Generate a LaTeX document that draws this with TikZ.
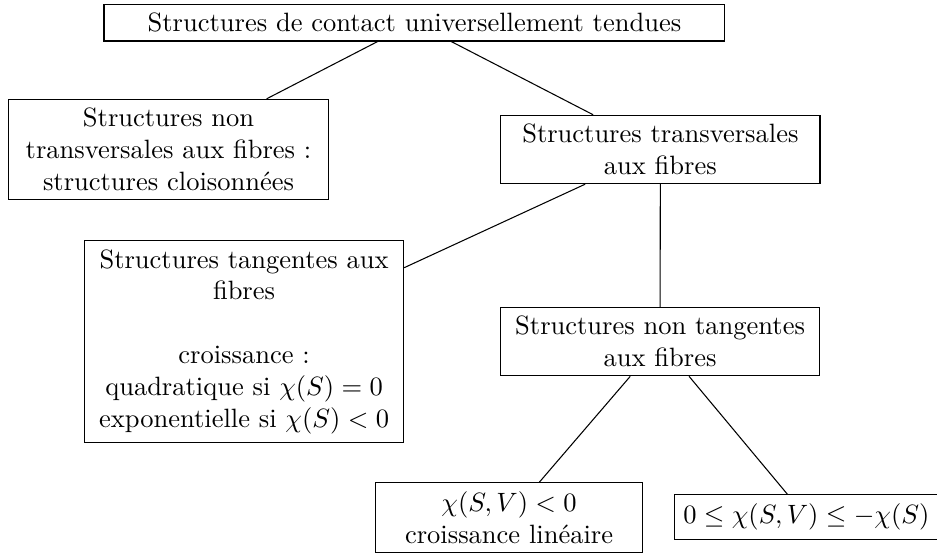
\documentclass[tikz,border=0pt]{standalone}
\usepackage{amsmath}
\usepackage{tikz}
\tikzstyle{family}=[draw, text width=4cm, execute at begin node=\centering]
\tikzstyle{familyWide}=[family, text width=8cm]
\tikzstyle{familySmall}=[family, text width=3.3cm]
\tikzstyle{leaf}=[draw, align=center]
\tikzstyle{branch}=[-]

\begin{document}
\begin{tikzpicture}[x=1pt, y=1pt]
    \useasboundingbox (0,0) rectangle (353.6,-209.1);
    % top level
    \node[familyWide] (tendues) at (156.4,-8.5) {Structures de contact universellement tendues};
    \node[family] (cloison) at (63.6,-56.4) {Structures non transversales aux fibres~: structures cloisonnées};
    \node[family] (transv) at (249.2,-56.4) {Structures transversales aux fibres};
    % transversal structures
    \node[family] (tang) at (92.1,-128.9) {Structures tangentes aux fibres\\[\baselineskip]
      croissance :\\ quadratique si $\chi(S)=0$\\ exponentielle si $\chi(S)<0$};
    \node[family] (nontang) at (249.1,-128.9) {Structures non tangentes aux fibres};
    % non tangent structures
    \node[familySmall] (neg) at (192.1,-195.3) {$\chi(S,V)<0$\\ croissance linéaire};
    \node[leaf] (pos) at (304.3,-195.1) {$0 \leq \chi(S,V) \leq -\chi(S)$};

    \draw[branch] (tendues) -- (cloison);
    \draw[branch] (tendues) -- (transv);
    \draw[branch] (transv) -- (tang);
    \draw[branch] (transv) -- (nontang);
    \draw[branch] (nontang) -- (neg);
    \draw[branch] (nontang) -- (pos);
\end{tikzpicture}
\end{document}
